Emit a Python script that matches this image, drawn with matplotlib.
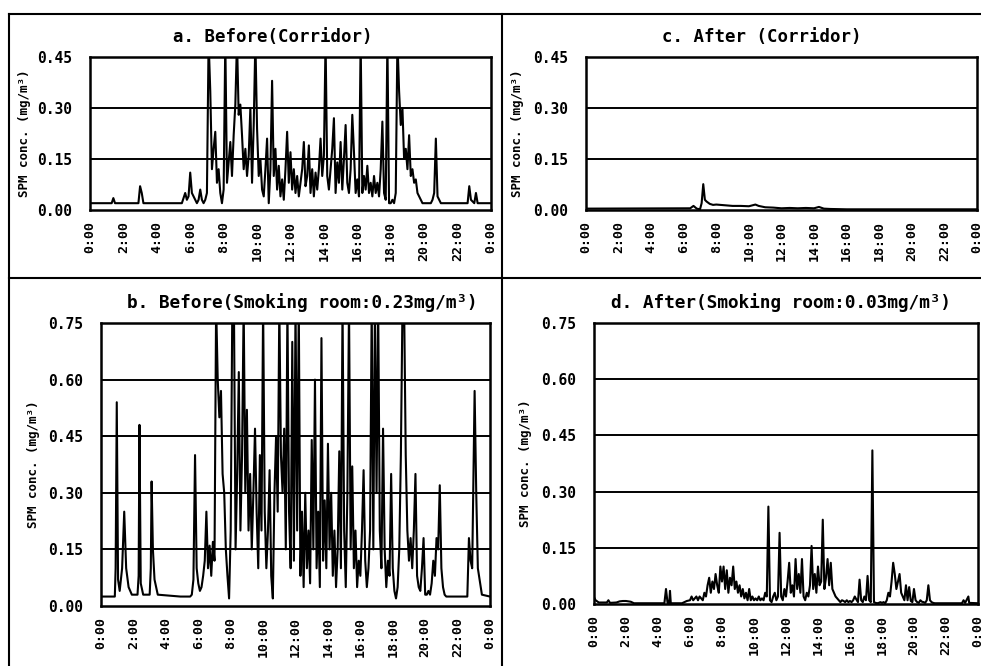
import matplotlib
matplotlib.use("Agg")
import matplotlib.pyplot as plt
from matplotlib.lines import Line2D

# ---- fonts ----
plt.rcParams['font.family'] = ['DejaVu Sans Mono', 'DejaVu Sans']
plt.rcParams['font.weight'] = 'bold'

# ---- data (hours of day, SPM conc. mg/m3) ----
hour_ticks = [0, 2, 4, 6, 8, 10, 12, 14, 16, 18, 20, 22, 24]
hour_labels = ["0:00", "2:00", "4:00", "6:00", "8:00", "10:00", "12:00",
               "14:00", "16:00", "18:00", "20:00", "22:00", "0:00"]

# a. Before (Corridor)
a_pre_t = [0, 1.3, 1.4, 1.5, 2.9, 3.0, 3.1, 3.2, 5.5, 5.7, 5.8, 5.9]
a_pre_v = [0.02, 0.02, 0.035, 0.02, 0.02, 0.07, 0.05, 0.02, 0.02, 0.05, 0.03, 0.04]
a_rows_start = 6
a_rows = [
    [0.11, 0.05, 0.04, 0.03, 0.02, 0.03, 0.06, 0.03, 0.02, 0.03],
    [0.05, 0.50, 0.35, 0.12, 0.18, 0.23, 0.08, 0.12, 0.05, 0.02],
    [0.06, 0.50, 0.08, 0.14, 0.20, 0.10, 0.22, 0.31, 0.50, 0.28],
    [0.31, 0.22, 0.12, 0.18, 0.10, 0.16, 0.30, 0.08, 0.25, 0.50],
    [0.24, 0.10, 0.15, 0.06, 0.04, 0.12, 0.21, 0.02, 0.12, 0.38],
    [0.10, 0.18, 0.06, 0.13, 0.04, 0.09, 0.03, 0.12, 0.23, 0.08],
    [0.17, 0.06, 0.12, 0.05, 0.10, 0.04, 0.08, 0.12, 0.20, 0.07],
    [0.10, 0.19, 0.05, 0.12, 0.04, 0.11, 0.06, 0.12, 0.21, 0.10],
    [0.16, 0.50, 0.10, 0.06, 0.12, 0.18, 0.27, 0.05, 0.14, 0.08],
    [0.20, 0.06, 0.15, 0.25, 0.08, 0.05, 0.12, 0.28, 0.17, 0.05],
    [0.09, 0.04, 0.50, 0.05, 0.10, 0.06, 0.13, 0.05, 0.08, 0.04],
    [0.10, 0.05, 0.08, 0.04, 0.12, 0.26, 0.05, 0.03, 0.50, 0.02],
    [0.02, 0.03, 0.02, 0.05, 0.50, 0.35, 0.25, 0.30, 0.15, 0.18],
    [0.12, 0.22, 0.10, 0.12, 0.08, 0.09, 0.05, 0.04, 0.03, 0.02],
    [0.02, 0.02, 0.02, 0.02, 0.02, 0.03, 0.05, 0.21, 0.04, 0.03],
]
a_post_t = [21.0, 22.6, 22.7, 22.8, 23.0, 23.1, 23.2, 24.0]
a_post_v = [0.02, 0.02, 0.07, 0.03, 0.02, 0.05, 0.02, 0.02]

# c. After (Corridor)
c_t = [0, 6.4, 6.6, 6.8, 7.0, 7.1, 7.2, 7.3, 7.4, 7.6, 7.8, 8.0, 8.5, 9.0, 9.5,
       10.0, 10.4, 10.6, 11.0, 11.5, 12.0, 12.5, 13.0, 13.5, 14.0, 14.3, 14.6,
       15.0, 16.0, 24.0]
c_v = [0.004, 0.005, 0.012, 0.004, 0.002, 0.02, 0.076, 0.03, 0.025, 0.018, 0.015,
       0.016, 0.014, 0.012, 0.012, 0.011, 0.016, 0.012, 0.008, 0.007, 0.005,
       0.006, 0.005, 0.006, 0.005, 0.009, 0.004, 0.003, 0.002, 0.002]

# b. Before (Smoking room)
b_pre_t = [0, 0.85, 0.9, 0.97, 1.05, 1.15, 1.3, 1.43, 1.55, 1.7, 1.9, 2.25, 2.32,
           2.37, 2.45, 2.6, 3.0, 3.07, 3.12, 3.2, 3.3, 3.5, 4.9]
b_pre_v = [0.025, 0.025, 0.1, 0.54, 0.07, 0.04, 0.10, 0.25, 0.10, 0.05, 0.03, 0.03,
           0.08, 0.48, 0.06, 0.03, 0.03, 0.10, 0.33, 0.15, 0.07, 0.03, 0.025]
b_rows_start = 5
b_rows = [
    [0.025, 0.025, 0.025, 0.025, 0.025, 0.025, 0.03, 0.07, 0.40, 0.10],
    [0.06, 0.04, 0.05, 0.08, 0.12, 0.25, 0.10, 0.16, 0.08, 0.17],
    [0.12, 0.80, 0.60, 0.50, 0.57, 0.35, 0.30, 0.15, 0.08, 0.02],
    [0.20, 0.80, 0.80, 0.15, 0.35, 0.62, 0.20, 0.40, 0.80, 0.30],
    [0.52, 0.20, 0.35, 0.15, 0.30, 0.47, 0.25, 0.10, 0.40, 0.20],
    [0.80, 0.25, 0.10, 0.20, 0.36, 0.08, 0.02, 0.30, 0.45, 0.25],
    [0.80, 0.40, 0.30, 0.47, 0.15, 0.80, 0.25, 0.10, 0.70, 0.12],
    [0.80, 0.20, 0.80, 0.08, 0.25, 0.05, 0.30, 0.10, 0.20, 0.06],
    [0.44, 0.15, 0.60, 0.10, 0.25, 0.05, 0.71, 0.12, 0.28, 0.10],
    [0.43, 0.15, 0.30, 0.08, 0.20, 0.05, 0.15, 0.41, 0.10, 0.80],
    [0.20, 0.05, 0.30, 0.80, 0.15, 0.37, 0.10, 0.20, 0.05, 0.12],
    [0.08, 0.20, 0.36, 0.12, 0.05, 0.10, 0.20, 0.80, 0.15, 0.80],
    [0.30, 0.80, 0.20, 0.10, 0.47, 0.15, 0.05, 0.12, 0.08, 0.35],
    [0.10, 0.04, 0.02, 0.05, 0.15, 0.40, 0.80, 0.80, 0.40, 0.20],
    [0.12, 0.18, 0.10, 0.20, 0.35, 0.08, 0.05, 0.04, 0.10, 0.18],
    [0.03, 0.03, 0.04, 0.03, 0.06, 0.12, 0.08, 0.18, 0.15, 0.32],
    [0.10, 0.05, 0.03, 0.025, 0.025, 0.025, 0.025, 0.025, 0.025, 0.025],
]
b_post_t = [22.0, 22.6, 22.7, 22.8, 22.9, 23.05, 23.15, 23.25, 23.5, 24.0]
b_post_v = [0.025, 0.025, 0.18, 0.12, 0.10, 0.57, 0.30, 0.10, 0.03, 0.025]

# d. After (Smoking room)
d_pre_t = [0, 0.1, 0.3, 0.8, 0.9, 1.0, 1.4, 1.6, 1.8, 2.0, 2.3, 2.5, 4.4, 4.5,
           4.6, 4.7, 4.75, 4.8, 5.5, 5.8]
d_pre_v = [0.018, 0.01, 0.004, 0.004, 0.01, 0.003, 0.004, 0.007, 0.008, 0.008,
           0.006, 0.002, 0.002, 0.04, 0.002, 0.002, 0.035, 0.002, 0.002, 0.008]
d_rows_start = 6
d_rows = [
    [0.01, 0.02, 0.01, 0.015, 0.02, 0.01, 0.02, 0.015, 0.01, 0.03],
    [0.02, 0.05, 0.07, 0.03, 0.06, 0.04, 0.08, 0.05, 0.03, 0.10],
    [0.06, 0.10, 0.04, 0.09, 0.03, 0.07, 0.05, 0.10, 0.04, 0.06],
    [0.03, 0.05, 0.02, 0.04, 0.015, 0.03, 0.01, 0.04, 0.01, 0.02],
    [0.01, 0.015, 0.01, 0.02, 0.01, 0.015, 0.01, 0.03, 0.02, 0.26],
    [0.01, 0.005, 0.02, 0.03, 0.01, 0.02, 0.19, 0.02, 0.01, 0.04],
    [0.02, 0.06, 0.11, 0.03, 0.05, 0.02, 0.12, 0.04, 0.08, 0.03],
    [0.12, 0.02, 0.01, 0.03, 0.02, 0.05, 0.155, 0.04, 0.08, 0.03],
    [0.10, 0.05, 0.06, 0.225, 0.04, 0.07, 0.12, 0.05, 0.11, 0.04],
    [0.03, 0.02, 0.015, 0.01, 0.005, 0.01, 0.008, 0.005, 0.01, 0.005],
    [0.008, 0.005, 0.01, 0.02, 0.012, 0.005, 0.065, 0.01, 0.005, 0.02],
    [0.01, 0.075, 0.01, 0.005, 0.41, 0.005, 0.003, 0.002, 0.003, 0.005],
    [0.003, 0.005, 0.002, 0.01, 0.03, 0.02, 0.06, 0.11, 0.08, 0.04],
    [0.06, 0.08, 0.03, 0.02, 0.01, 0.05, 0.01, 0.045, 0.008, 0.005],
    [0.04, 0.01, 0.005, 0.003, 0.01, 0.006, 0.005, 0.003, 0.01, 0.05],
    [0.01, 0.005, 0.003, 0.002, 0.002, 0.002, 0.002, 0.002, 0.002, 0.002],
]
d_post_t = [23.0, 23.1, 23.2, 23.4, 23.45, 24.0]
d_post_v = [0.002, 0.01, 0.003, 0.02, 0.003, 0.002]

titles = ["a. Before(Corridor)", "c. After (Corridor)",
          "b. Before(Smoking room:0.23mg/m³)", "d. After(Smoking room:0.03mg/m³)"]
ylabel = "SPM conc. (mg/m³)"


def build(pre_t, pre_v, start, rows, post_t, post_v):
    # rows are readings every 6 minutes, one row per hour
    t = list(pre_t)
    v = list(pre_v)
    for i, row in enumerate(rows):
        for j, val in enumerate(row):
            t.append(start + i + j / 10)
            v.append(val)
    return t + list(post_t), v + list(post_v)


a_t, a_v = build(a_pre_t, a_pre_v, a_rows_start, a_rows, a_post_t, a_post_v)
b_t, b_v = build(b_pre_t, b_pre_v, b_rows_start, b_rows, b_post_t, b_post_v)
d_t, d_v = build(d_pre_t, d_pre_v, d_rows_start, d_rows, d_post_t, d_post_v)

# ---- figure ----
fig = plt.figure(figsize=(9.81, 6.66), dpi=100)

# [left, bottom, width, height], title pos (px), ylabel x (px), series, y max, title size
panels = [
    ([0.0917, 0.6847, 0.4088, 0.2297], (273, 37), 25, a_t, a_v, 0.45, 12.5),
    ([0.5973, 0.6847, 0.3986, 0.2297], (762, 37), 517, c_t, c_v, 0.45, 12.5),
    ([0.1030, 0.0901, 0.3965, 0.4249], (302, 303), 33, b_t, b_v, 0.75, 12.8),
    ([0.6055, 0.0931, 0.3914, 0.4219], (781, 303), 525, d_t, d_v, 0.75, 12.8),
]

for (rect, tpos, ylx, t, v, ymax, tsize), title in zip(panels, titles):
    ax = fig.add_axes(rect)
    ax.plot(t, v, color="black", lw=1.5)
    ax.set_xlim(0, 24)
    ax.set_ylim(0, ymax)
    yt = [round(k * 0.15, 2) for k in range(int(round(ymax / 0.15)) + 1)]
    ax.set_yticks(yt)
    ax.set_yticklabels([f"{y:.2f}" for y in yt], fontsize=10.5, fontweight="bold")
    ax.set_xticks(hour_ticks)
    ax.set_xticklabels(hour_labels, rotation=90, fontsize=9.5, fontweight="bold")
    ax.tick_params(axis="both", length=0)
    ax.tick_params(axis="y", pad=13)
    ax.tick_params(axis="x", pad=8)
    for y in yt[1:-1]:
        ax.axhline(y, color="black", lw=1.4)
    for s in ax.spines.values():
        s.set_linewidth(1.8)
    fig.text(ylx / 981, rect[1] + rect[3] / 2, ylabel, rotation=90,
             ha="center", va="center", fontsize=9, fontweight="bold")
    fig.text(tpos[0] / 981, 1 - tpos[1] / 666, title, ha="center", va="center",
             fontsize=tsize, fontweight="bold")

# ---- cell borders ----
def fline(x0, y0, x1, y1):
    fig.add_artist(Line2D([x0 / 981, x1 / 981], [1 - y0 / 666, 1 - y1 / 666],
                          color="black", lw=1.5))

fline(9, 14, 981, 14)
fline(9, 14, 9, 666)
fline(502, 14, 502, 666)
fline(9, 278, 981, 278)

fig.savefig("out.png", dpi=100)
